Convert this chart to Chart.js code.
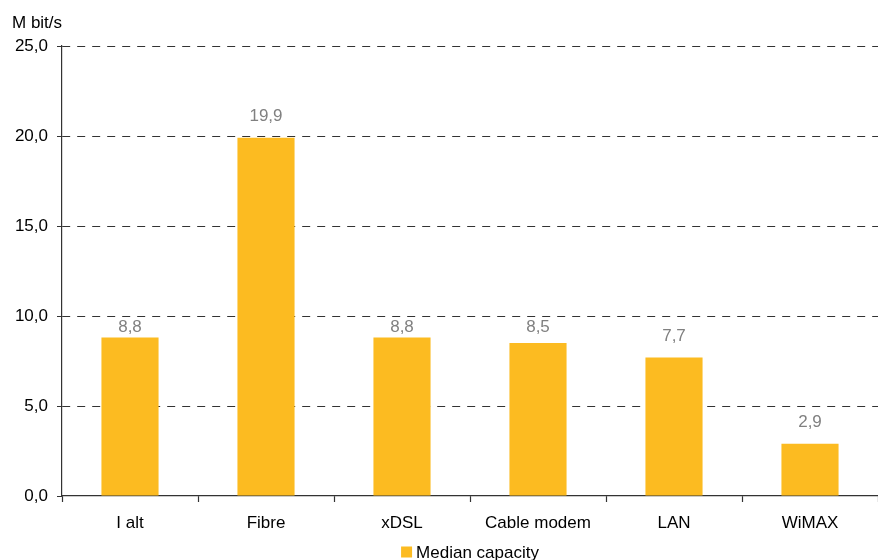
<!DOCTYPE html>
<html>
<head>
<meta charset="utf-8">
<script src="https://cdn.jsdelivr.net/npm/chart.js@4/dist/chart.umd.min.js"></script>
<style>
  html, body { margin: 0; padding: 0; background: #fff; }
  #wrap { width: 878px; height: 560px; position: relative; }
</style>
</head>
<body>
<div id="wrap"><canvas id="c" width="878" height="560"></canvas></div>
<script>
// Median connection capacity by access technology (Mbit/s)
const categories = ['I alt', 'Fibre', 'xDSL', 'Cable modem', 'LAN', 'WiMAX'];
const medianCapacity = [8.8, 19.9, 8.8, 8.5, 7.7, 2.9];
const seriesLabel = 'Median capacity';
const unitLabel = 'M bit/s';
const yTicks = { min: 0, max: 25, step: 5 };

const FONT = '"Liberation Sans", Arial, sans-serif';
const BAR_COLOR = '#FCBB21';
const fmt = v => v.toFixed(1).replace('.', ',');

// Value labels above each bar; a label that would sit on a grid line
// is moved just below that line so it stays readable.
const valueLabels = {
  id: 'valueLabels',
  afterDatasetsDraw(chart) {
    const ctx = chart.ctx;
    const meta = chart.getDatasetMeta(0);
    const yScale = chart.scales.y;
    const gridYs = yScale.ticks.map(t => yScale.getPixelForValue(t.value));
    ctx.save();
    ctx.font = '17px ' + FONT;
    ctx.fillStyle = '#808080';
    ctx.textAlign = 'center';
    ctx.textBaseline = 'middle';
    meta.data.forEach((bar, i) => {
      let y = bar.y - 21;
      gridYs.forEach(g => {
        if (Math.abs(y - g) < 9 && g < bar.y - 12) y = g + 11.5;
      });
      ctx.fillText(fmt(chart.data.datasets[0].data[i]), bar.x, y);
    });
    ctx.restore();
  }
};

// Unit caption above the value axis and legend entry under the chart
const captions = {
  id: 'captions',
  afterDraw(chart) {
    const ctx = chart.ctx;
    const area = chart.chartArea;
    ctx.save();
    ctx.font = '17px ' + FONT;
    ctx.fillStyle = '#000';
    ctx.textBaseline = 'middle';
    ctx.textAlign = 'left';
    ctx.fillText(unitLabel, 12, 23);

    const ds = chart.data.datasets[0];
    const box = 11;
    const gap = 4;
    const tw = ctx.measureText(ds.label).width;
    const total = box + gap + tw;
    const cx = (area.left + area.right) / 2;
    const x0 = cx - total / 2;
    const y = 552;
    ctx.fillStyle = ds.backgroundColor;
    ctx.fillRect(x0, y - box / 2, box, box);
    ctx.fillStyle = '#000';
    ctx.fillText(ds.label, x0 + box + gap, y + 1);
    ctx.restore();
  }
};

new Chart(document.getElementById('c'), {
  type: 'bar',
  data: {
    labels: categories,
    datasets: [{
      label: seriesLabel,
      data: medianCapacity,
      backgroundColor: BAR_COLOR,
      borderWidth: 0,
      barPercentage: 0.42,
      categoryPercentage: 1.0
    }]
  },
  options: {
    responsive: false,
    animation: false,
    devicePixelRatio: 1,
    layout: { padding: { top: 46, right: 0, left: 0, bottom: 0 } },
    plugins: {
      legend: { display: false },
      tooltip: { enabled: false }
    },
    scales: {
      x: {
        offset: true,
        grid: {
          offset: true,
          drawOnChartArea: false,
          drawTicks: true,
          tickLength: 6,
          tickColor: '#333',
          tickWidth: 1.2
        },
        border: { display: true, color: '#333', width: 1.2 },
        ticks: {
          color: '#000',
          font: { family: FONT, size: 17 },
          padding: 11,
          maxRotation: 0
        },
        afterFit(scale) { scale.height = 64; }
      },
      y: {
        min: yTicks.min,
        max: yTicks.max,
        grid: {
          color: ctx => (ctx.tick && ctx.tick.value === 0 ? 'rgba(0,0,0,0)' : '#333'),
          lineWidth: 1,
          drawTicks: true,
          tickLength: 5,
          tickColor: '#333',
          tickWidth: 1.2,
          tickBorderDash: [1, 0]
        },
        border: { display: true, color: '#333', width: 1.2, dash: [8, 7] },
        ticks: {
          stepSize: yTicks.step,
          color: '#000',
          font: { family: FONT, size: 17 },
          padding: 9,
          callback: v => fmt(v)
        },
        afterFit(scale) { scale.width = 62; }
      }
    }
  },
  plugins: [valueLabels, captions]
});
</script>
</body>
</html>
